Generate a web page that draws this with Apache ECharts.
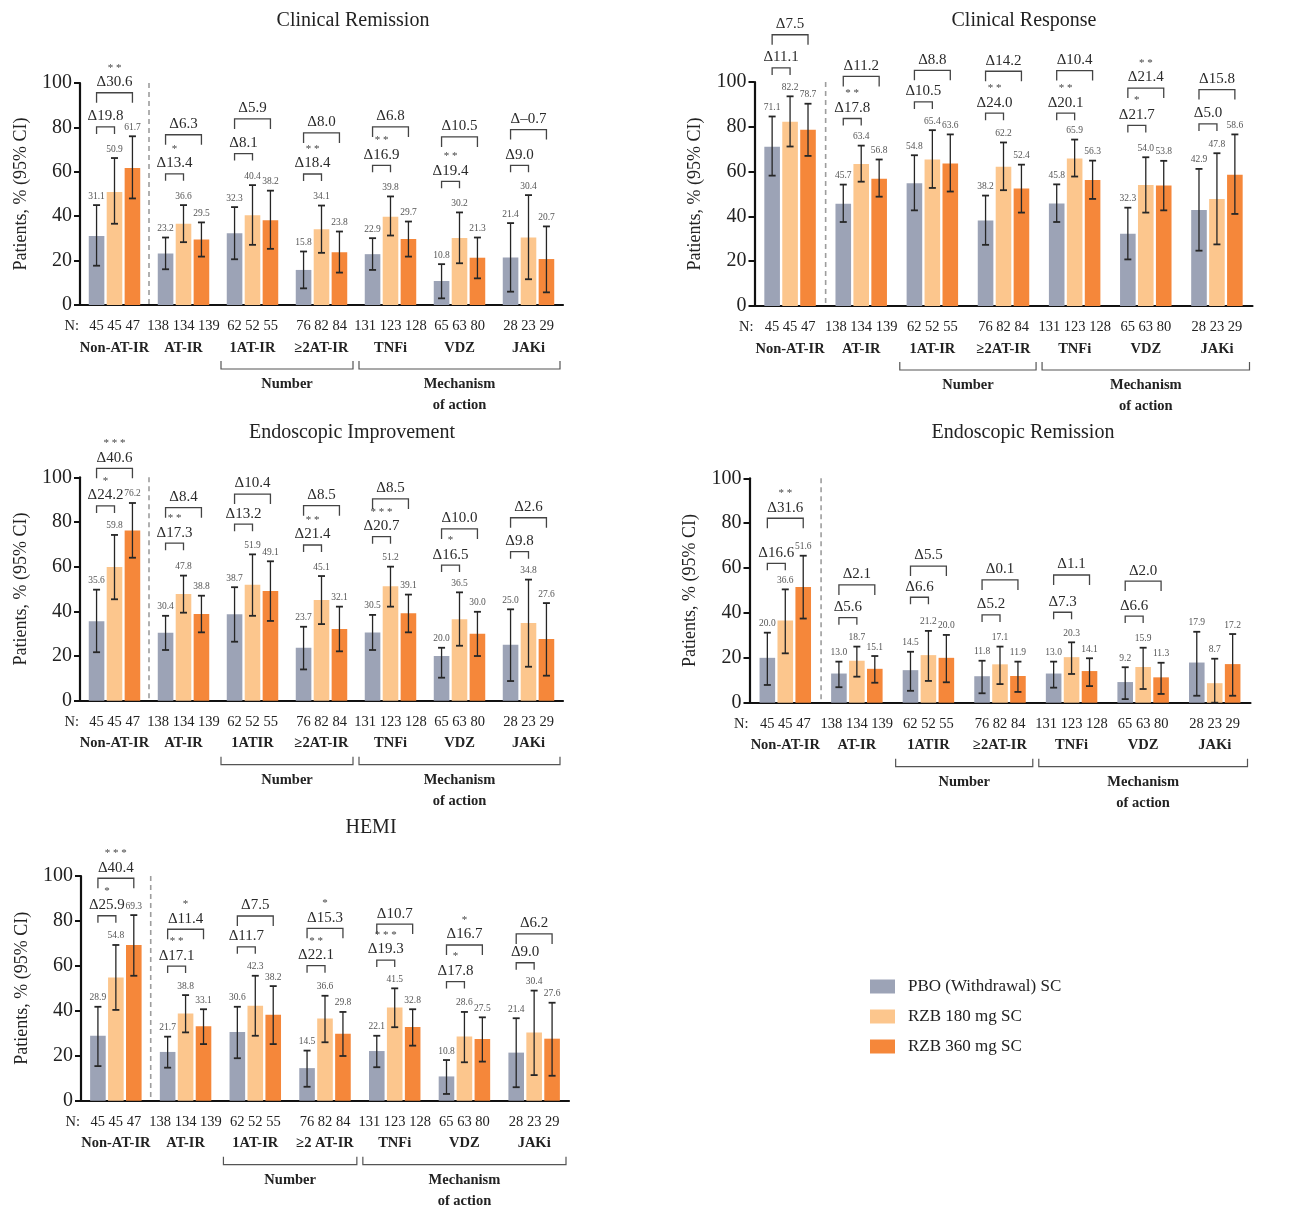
<!DOCTYPE html>
<html>
<head>
<meta charset="utf-8">
<title>Outcomes by prior advanced therapy</title>
<script src="https://cdn.jsdelivr.net/npm/echarts@6/dist/echarts.min.js"></script>
<style>
  html, body { margin: 0; background: #fff; }
  #chart { width: 1313px; height: 1209px; }
</style>
</head>
<body>
<div id="chart"></div>
<script>
// categories
const catsA = ['Non-AT-IR', 'AT-IR', '1AT-IR', '≥2AT-IR', 'TNFi', 'VDZ', 'JAKi'];
const catsB = ['Non-AT-IR', 'AT-IR', '1ATIR', '≥2AT-IR', 'TNFi', 'VDZ', 'JAKi'];
const catsC = ['Non-AT-IR', 'AT-IR', '1AT-IR', '≥2 AT-IR', 'TNFi', 'VDZ', 'JAKi'];
const nPbo = [45, 138, 62, 76, 131, 65, 28];
const n180 = [45, 134, 52, 82, 123, 63, 23];
const n360 = [47, 139, 55, 84, 128, 80, 29];
const armNames = ['PBO (Withdrawal) SC', 'RZB 180 mg SC', 'RZB 360 mg SC'];
const spanFrom = [2, 4];
const spanTo = [3, 6];
const spanText = ['Number', 'Mechanism\nof action'];

// Clinical Remission
const remPbo = [31.1, 23.2, 32.3, 15.8, 22.9, 10.8, 21.4];
const rem180 = [50.9, 36.6, 40.4, 34.1, 39.8, 30.2, 30.4];
const rem360 = [61.7, 29.5, 38.2, 23.8, 29.7, 21.3, 20.7];
const remPboCI = [[17.7, 45.0], [16.1, 30.4], [20.6, 44.1], [7.5, 24.1], [15.8, 30.1], [3.0, 18.4], [6.0, 36.9]];
const rem180CI = [[36.6, 66.2], [28.3, 45.0], [27.1, 54.0], [23.5, 44.8], [31.3, 48.9], [18.8, 41.7], [11.6, 49.5]];
const rem360CI = [[48.0, 76.0], [21.8, 37.2], [25.3, 51.5], [14.6, 33.1], [21.8, 37.6], [12.0, 30.4], [5.7, 35.4]];
const remD180 = ['19.8', '13.4', '8.1', '18.4', '16.9', '19.4', '9.0'];
const remS180 = ['', '*', '', '**', '**', '**', ''];
const remD360 = ['30.6', '6.3', '5.9', '8.0', '6.8', '10.5', '–0.7'];
const remS360 = ['**', '', '', '', '', '', ''];

// Clinical Response
const rspPbo = [71.1, 45.7, 54.8, 38.2, 45.8, 32.3, 42.9];
const rsp180 = [82.2, 63.4, 65.4, 62.2, 65.9, 54.0, 47.8];
const rsp360 = [78.7, 56.8, 63.6, 52.4, 56.3, 53.8, 58.6];
const rspPboCI = [[58.2, 84.6], [37.5, 54.2], [42.7, 67.3], [27.3, 49.3], [37.5, 54.3], [20.8, 43.9], [24.7, 61.2]];
const rsp180CI = [[71.2, 93.6], [55.5, 71.6], [52.7, 78.5], [51.7, 73.0], [57.8, 74.3], [41.7, 66.4], [27.5, 68.2]];
const rsp360CI = [[67.0, 90.3], [48.8, 65.4], [51.1, 76.6], [41.7, 63.1], [47.8, 64.9], [42.7, 64.8], [41.1, 76.6]];
const rspD180 = ['11.1', '17.8', '10.5', '24.0', '20.1', '21.7', '5.0'];
const rspS180 = ['', '**', '', '**', '**', '*', ''];
const rspD360 = ['7.5', '11.2', '8.8', '14.2', '10.4', '21.4', '15.8'];
const rspS360 = ['', '', '', '', '', '**', ''];

// Endoscopic Improvement
const eiPbo = [35.6, 30.4, 38.7, 23.7, 30.5, 20.0, 25.0];
const ei180 = [59.8, 47.8, 51.9, 45.1, 51.2, 36.5, 34.8];
const ei360 = [76.2, 38.8, 49.1, 32.1, 39.1, 30.0, 27.6];
const eiPboCI = [[21.7, 49.7], [22.7, 38.0], [26.4, 50.8], [14.0, 33.1], [22.7, 38.4], [10.3, 23.7], [8.8, 40.9]];
const ei180CI = [[45.4, 74.2], [39.4, 56.0], [38.0, 65.5], [34.3, 55.8], [42.1, 60.0], [24.6, 48.5], [15.2, 54.2]];
const ei360CI = [[64.0, 88.5], [30.6, 47.0], [35.7, 62.4], [22.1, 42.1], [30.6, 47.5], [20.0, 39.8], [11.2, 43.7]];
const eiD180 = ['24.2', '17.3', '13.2', '21.4', '20.7', '16.5', '9.8'];
const eiS180 = ['*', '**', '', '**', '***', '*', ''];
const eiD360 = ['40.6', '8.4', '10.4', '8.5', '8.5', '10.0', '2.6'];
const eiS360 = ['***', '', '', '', '', '', ''];

// Endoscopic Remission
const erPbo = [20.0, 13.0, 14.5, 11.8, 13.0, 9.2, 17.9];
const er180 = [36.6, 18.7, 21.2, 17.1, 20.3, 15.9, 8.7];
const er360 = [51.6, 15.1, 20.0, 11.9, 14.1, 11.3, 17.2];
const erPboCI = [[7.9, 31.2], [6.9, 18.3], [5.3, 22.7], [4.2, 18.7], [6.7, 18.3], [1.6, 15.8], [3.1, 31.6]];
const er180CI = [[22.0, 50.5], [11.6, 25.0], [9.7, 32.0], [8.3, 25.0], [12.8, 26.9], [6.1, 24.5], [0, 19.6]];
const er360CI = [[37.5, 65.5], [8.9, 20.8], [9.1, 30.2], [4.8, 18.3], [7.4, 19.8], [3.9, 17.8], [3.1, 30.6]];
const erD180 = ['16.6', '5.6', '6.6', '5.2', '7.3', '6.6', null];
const erS180 = ['', '', '', '', '', '', ''];
const erD360 = ['31.6', '2.1', '5.5', '0.1', '1.1', '2.0', null];
const erS360 = ['**', '', '', '', '', '', ''];

// HEMI
const hemiPbo = [28.9, 21.7, 30.6, 14.5, 22.1, 10.8, 21.4];
const hemi180 = [54.8, 38.8, 42.3, 36.6, 41.5, 28.6, 30.4];
const hemi360 = [69.3, 33.1, 38.2, 29.8, 32.8, 27.5, 27.6];
const hemiPboCI = [[15.4, 41.8], [14.7, 28.5], [18.9, 41.8], [6.2, 22.3], [14.9, 28.9], [3.0, 18.1], [6.0, 36.7]];
const hemi180CI = [[40.4, 69.3], [30.4, 47.0], [28.9, 55.6], [26.0, 46.7], [32.7, 50.0], [17.1, 39.5], [11.4, 49.0]];
const hemi360CI = [[55.6, 82.6], [25.2, 40.7], [25.2, 51.0], [19.9, 39.5], [24.5, 40.7], [17.4, 37.1], [11.1, 43.6]];
const hemiD180 = ['25.9', '17.1', '11.7', '22.1', '19.3', '17.8', '9.0'];
const hemiS180 = ['*', '**', '', '**', '***', '*', ''];
const hemiD360 = ['40.4', '11.4', '7.5', '15.3', '10.7', '16.7', '6.2'];
const hemiS360 = ['***', '*', '', '*', '', '*', ''];

// heights (in % units) where the comparison brackets sit
const remH180 = [80.2, 59.1, 68.2, 59.0, 62.9, 55.7, 62.9];
const remH360 = [95.6, 76.7, 83.8, 77.5, 80.2, 75.7, 79.0];
const rspH180 = [106.3, 83.7, 91.1, 86.1, 86.1, 80.6, 81.3];
const rspH360 = [121.1, 102.5, 105.2, 104.8, 105.1, 97.3, 96.6];
const eiH180 = [87.2, 70.5, 79.0, 69.7, 73.4, 60.7, 66.7];
const eiH360 = [104.0, 86.4, 92.5, 87.3, 90.3, 76.9, 81.9];
const erH180 = [62.1, 37.9, 47.0, 39.1, 40.3, 38.6, null];
const erH360 = [82.2, 52.5, 60.9, 54.7, 56.9, 54.2, null];
const hemiH180 = [82.3, 59.9, 68.5, 60.1, 62.6, 53.0, 61.4];
const hemiH360 = [99.0, 76.3, 82.2, 76.7, 78.6, 69.3, 74.2];

const FONT = '"Liberation Serif"';
const BAR_W = 15.6;
const BAR_GAP = 0.15;
const STEP = BAR_W * (1 + BAR_GAP);
const colors = ['#9ca3b6', '#fcc68d', '#f5873a'];

const panels = [
  { title: 'Clinical Remission', cats: catsA, vals: [remPbo, rem180, rem360], ci: [remPboCI, rem180CI, rem360CI],
    d: [remD180, remD360], s: [remS180, remS360], h: [remH180, remH360] },
  { title: 'Clinical Response', cats: catsA, vals: [rspPbo, rsp180, rsp360], ci: [rspPboCI, rsp180CI, rsp360CI],
    d: [rspD180, rspD360], s: [rspS180, rspS360], h: [rspH180, rspH360] },
  { title: 'Endoscopic Improvement', cats: catsB, vals: [eiPbo, ei180, ei360], ci: [eiPboCI, ei180CI, ei360CI],
    d: [eiD180, eiD360], s: [eiS180, eiS360], h: [eiH180, eiH360] },
  { title: 'Endoscopic Remission', cats: catsB, vals: [erPbo, er180, er360], ci: [erPboCI, er180CI, er360CI],
    d: [erD180, erD360], s: [erS180, erS360], h: [erH180, erH360] },
  { title: 'HEMI', cats: catsC, vals: [hemiPbo, hemi180, hemi360], ci: [hemiPboCI, hemi180CI, hemi360CI],
    d: [hemiD180, hemiD360], s: [hemiS180, hemiS360], h: [hemiH180, hemiH360] }
];

// grid boxes [left, top, width, height] and title centres [x, y]
const boxes = [[80, 83, 483, 222], [754.5, 82, 498, 224], [80, 477.3, 483, 223.4], [749.5, 478.3, 501, 224.4], [81, 876, 488, 224.7]];
const titlePos = [[353, 21], [1024, 21], [352, 433], [1023, 433], [371, 828]];

const errRender = (arm) => (params, api) => {
  const hi = api.coord([api.value(0), api.value(3)]);
  const lo = api.coord([api.value(0), api.value(2)]);
  const x = hi[0] + (arm - 1) * STEP;
  const st = { stroke: '#262626', lineWidth: 1.3 };
  const cap = { stroke: '#262626', lineWidth: 1.8 };
  return {
    type: 'group',
    children: [
      { type: 'line', shape: { x1: x, y1: hi[1], x2: x, y2: lo[1] }, style: st },
      { type: 'line', shape: { x1: x - 3.5, y1: hi[1], x2: x + 3.5, y2: hi[1] }, style: cap },
      { type: 'line', shape: { x1: x - 3.5, y1: lo[1], x2: x + 3.5, y2: lo[1] }, style: cap },
      { type: 'text', style: { text: api.value(1).toFixed(1), x: x, y: hi[1] - 4, fill: '#555',
        font: '9.5px ' + FONT, textAlign: 'center', textVerticalAlign: 'bottom' } }
    ]
  };
};

const bracketRender = (p) => (params, api) => {
  const gi = api.value(0);
  const k = api.value(2);
  const c = api.coord([gi, api.value(1)]);
  const x1 = c[0] - STEP;
  const x2 = x1 + k * STEP;
  const y = c[1];
  const leg = k === 1 ? 7 : 10;
  const mid = (x1 + x2) / 2;
  const stars = p.s[k - 1][gi];
  const kids = [
    { type: 'polyline', shape: { points: [[x1, y + leg], [x1, y], [x2, y], [x2, y + leg]] },
      style: { stroke: '#444', lineWidth: 1.3, fill: 'none' } },
    { type: 'text', style: { text: 'Δ' + p.d[k - 1][gi], x: mid, y: y - 10.5, fill: '#2a2a2a',
      font: '15px ' + FONT, textAlign: 'center', textVerticalAlign: 'middle' } }
  ];
  if (stars) {
    kids.push({ type: 'text', style: { text: stars.split('').join(' '), x: mid, y: y - 25, fill: '#444',
      font: '11px ' + FONT, textAlign: 'center', textVerticalAlign: 'middle' } });
  }
  return { type: 'group', children: kids };
};

const decorRender = (params, api) => {
  const band = api.size([1, 0])[0];
  const base = api.coord([0, 0]);
  const top = api.coord([0, 100]);
  const sx = base[0] + band / 2;
  const kids = [
    { type: 'line', shape: { x1: sx, y1: top[1], x2: sx, y2: base[1] },
      style: { stroke: '#9d9d9d', lineWidth: 1.6, lineDash: [5, 4] } },
    { type: 'text', style: { text: 'N:', x: base[0] - band / 2 - 1, y: base[1] + 21, fill: '#222',
      font: '14.5px ' + FONT, textAlign: 'right', textVerticalAlign: 'middle' } }
  ];
  spanFrom.forEach((f, s) => {
    const xa = api.coord([f, 0])[0] - band / 2 + 3;
    const xb = api.coord([spanTo[s], 0])[0] + band / 2 - 3;
    const yb = base[1] + 64;
    kids.push({ type: 'polyline', shape: { points: [[xa, yb - 8], [xa, yb], [xb, yb], [xb, yb - 8]] },
      style: { stroke: '#555', lineWidth: 1.2, fill: 'none' } });
    kids.push({ type: 'text', style: { text: spanText[s], x: (xa + xb) / 2, y: yb + 5, fill: '#222',
      font: 'bold 14.5px ' + FONT, textAlign: 'center', textVerticalAlign: 'top', lineHeight: 21 } });
  });
  return { type: 'group', children: kids };
};

const grids = [], xAxes = [], yAxes = [], series = [], graphics = [];

panels.forEach((p, k) => {
  const b = boxes[k];
  grids.push({ left: b[0], top: b[1], width: b[2], height: b[3] });
  xAxes.push({
    type: 'category', gridIndex: k, data: p.cats,
    axisLine: { lineStyle: { color: '#111', width: 2.2 } },
    axisTick: { show: false },
    axisLabel: {
      interval: 0, margin: 10,
      formatter: (v, i) => `{n|${nPbo[i]} ${n180[i]} ${n360[i]}}\n{c|${v}}`,
      rich: {
        n: { fontFamily: FONT, fontSize: 14.5, lineHeight: 22, color: '#222' },
        c: { fontFamily: FONT, fontSize: 14.5, fontWeight: 'bold', lineHeight: 22, color: '#222' }
      }
    }
  });
  yAxes.push({
    type: 'value', gridIndex: k, min: 0, max: 100, interval: 20,
    name: 'Patients, % (95% CI)', nameLocation: 'middle', nameGap: 50,
    nameTextStyle: { fontFamily: FONT, fontSize: 18, color: '#222' },
    axisLine: { show: true, lineStyle: { color: '#111', width: 2.2 } },
    axisTick: { show: true, length: 6, lineStyle: { color: '#111', width: 2 } },
    axisLabel: { fontFamily: FONT, fontSize: 20, color: '#222', margin: 8 },
    splitLine: { show: false }
  });
  p.vals.forEach((vals, a) => {
    series.push({
      type: 'bar', name: armNames[a], xAxisIndex: k, yAxisIndex: k, data: vals,
      barWidth: BAR_W, barGap: '15%', itemStyle: { color: colors[a] }, z: 2
    });
  });
  p.vals.forEach((vals, a) => {
    series.push({
      type: 'custom', xAxisIndex: k, yAxisIndex: k, clip: false, silent: true, z: 3,
      encode: { x: 0, y: 1 },
      data: vals.map((v, i) => [i, v, p.ci[a][i][0], p.ci[a][i][1]]),
      renderItem: errRender(a)
    });
  });
  const br = [];
  p.h[0].forEach((h, i) => { if (h != null) br.push([i, h, 1]); });
  p.h[1].forEach((h, i) => { if (h != null) br.push([i, h, 2]); });
  series.push({
    type: 'custom', xAxisIndex: k, yAxisIndex: k, clip: false, silent: true, z: 4,
    encode: { x: 0, y: 1 }, data: br, renderItem: bracketRender(p)
  });
  series.push({
    type: 'custom', xAxisIndex: k, yAxisIndex: k, clip: false, silent: true, z: 1,
    encode: { x: 0, y: 1 }, data: [[0, 0]], renderItem: decorRender
  });
  graphics.push({
    type: 'text', x: titlePos[k][0], y: titlePos[k][1],
    style: { text: p.title, font: '20px ' + FONT, fill: '#222', textAlign: 'center', textVerticalAlign: 'middle' }
  });
});

const chart = echarts.init(document.getElementById('chart'));
chart.setOption({
  animation: false,
  textStyle: { fontFamily: FONT },
  grid: grids,
  xAxis: xAxes,
  yAxis: yAxes,
  series: series,
  graphic: graphics,
  legend: {
    data: armNames, orient: 'vertical', left: 865, top: 973,
    icon: 'rect', itemWidth: 25, itemHeight: 14, itemGap: 13,
    textStyle: { fontFamily: FONT, fontSize: 17, color: '#222', padding: [0, 0, 0, 8] }
  }
});
</script>
</body>
</html>
